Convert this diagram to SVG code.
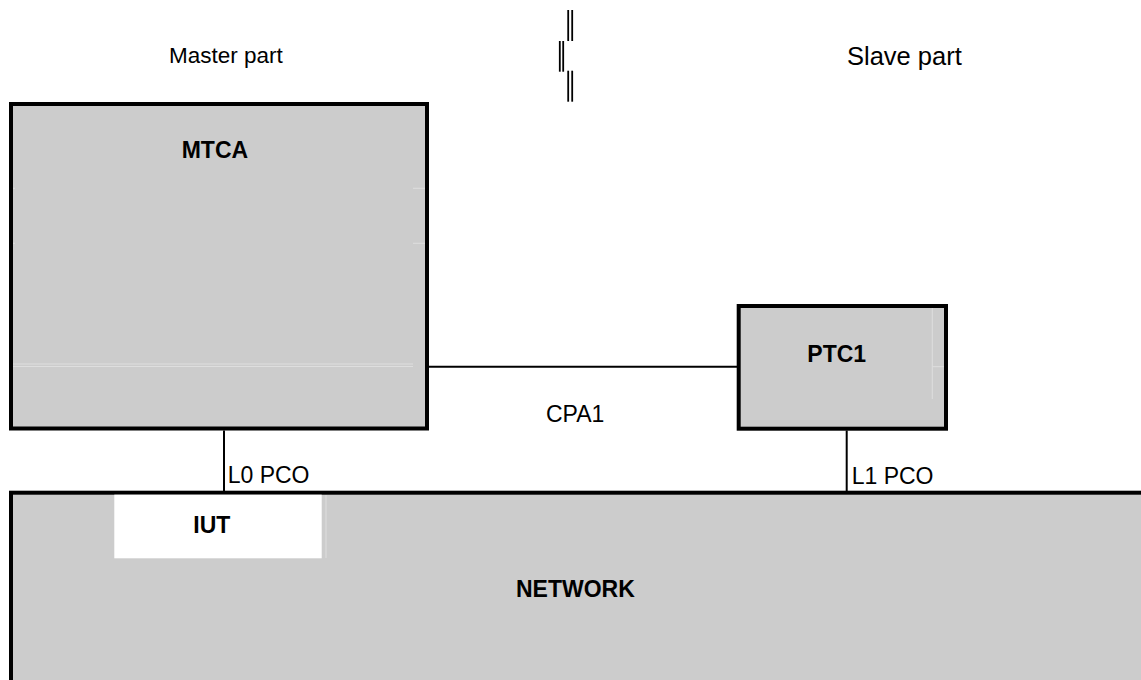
<svg xmlns="http://www.w3.org/2000/svg" width="1141" height="680" viewBox="0 0 1141 680">
<style>
.box{fill:#cccccc;stroke:#000;stroke-width:4}
.t{font-family:"Liberation Sans",Arial,sans-serif;font-size:23px;fill:#000}
.b{font-weight:bold}
.c{stroke:#000;stroke-width:2;fill:none}
.faint{stroke:#dedede;stroke-width:1;fill:none}
.bar{stroke:#000;stroke-width:1.8}
</style>
<rect width="1141" height="680" fill="#fff"/>
<g id="separator">
<line class="bar" x1="568.2" y1="10" x2="568.2" y2="41"/>
<line class="bar" x1="572.2" y1="10" x2="572.2" y2="41"/>
<line class="bar" x1="559.8" y1="41" x2="559.8" y2="71.7"/>
<line class="bar" x1="563.2" y1="41" x2="563.2" y2="71.7"/>
<line class="bar" x1="568.2" y1="70.7" x2="568.2" y2="101.7"/>
<line class="bar" x1="572.2" y1="70.7" x2="572.2" y2="101.7"/>
</g>
<text class="t" x="169" y="62.7" font-size="22.5" style="font-size:22.5px">Master part</text>
<text class="t" x="847" y="65" style="font-size:25.5px">Slave part</text>
<g id="connectors">
<line class="c" x1="429" y1="366.7" x2="737" y2="366.7"/>
<line class="c" x1="224" y1="430.5" x2="224" y2="491"/>
<line class="c" x1="846.7" y1="430.5" x2="846.7" y2="491"/>
<text class="t" x="546" y="422.3">CPA1</text>
<text class="t" x="227.7" y="483">L0 PCO</text>
<text class="t" x="851.7" y="484">L1 PCO</text>
</g>
<g id="network">
<rect class="box" x="11" y="492.7" width="1140" height="200"/>
<text class="t b" x="516" y="596.7">NETWORK</text>
</g>
<g id="iut">
<rect x="114.3" y="494.7" width="207.4" height="63.6" fill="#fff"/>
<line class="faint" x1="326" y1="495" x2="326" y2="558"/>
<text class="t b" x="193.3" y="533.3">IUT</text>
</g>
<g id="mtca">
<rect class="box" x="11" y="104" width="416" height="324.5"/>
<line class="faint" x1="13" y1="364" x2="413" y2="364"/>
<line class="faint" x1="13" y1="366.5" x2="413" y2="366.5"/>
<line class="faint" x1="13" y1="188.3" x2="15" y2="188.3"/>
<line class="faint" x1="413" y1="188.3" x2="425" y2="188.3"/>
<line class="faint" x1="13" y1="243.3" x2="15" y2="243.3"/>
<line class="faint" x1="413" y1="243.3" x2="425" y2="243.3"/>
<text class="t b" x="181.7" y="158.3">MTCA</text>
</g>
<g id="ptc1">
<rect class="box" x="738.7" y="306" width="207.3" height="122.7"/>
<line class="faint" x1="932.3" y1="308" x2="932.3" y2="399"/>
<line class="faint" x1="932.3" y1="366.7" x2="944" y2="366.7"/>
<text class="t b" x="807.3" y="361.7">PTC1</text>
</g>
</svg>
